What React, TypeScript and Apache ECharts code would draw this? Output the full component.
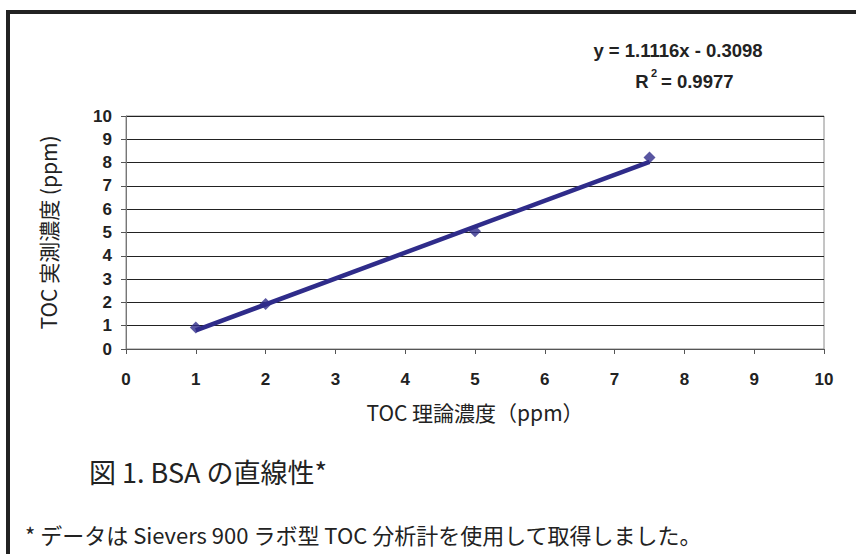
import React, { useEffect, useRef } from "react";
import * as echarts from "echarts";

const xValues = [1, 2, 5, 7.5];
const yValues = [0.92, 1.93, 5.05, 8.22];
const trendX = [1, 7.5];
const trendY = [0.80, 8.03];
const equationText = "y = 1.1116x - 0.3098";
const r2Value = "= 0.9977";
const xAxisTitle = "TOC 理論濃度（ppm）";
const yAxisTitle = "TOC 実測濃度 (ppm)";
const captionText = "図 1. BSA の直線性*";
const footnoteText = "* データは Sievers 900 ラボ型 TOC 分析計を使用して取得しました。";

const NAVY = "#2f2c8a";
const CJK = "'Noto Sans CJK JP', 'Noto Sans', sans-serif";
const ARIAL = "'Liberation Sans', Arial, sans-serif";

export default function App() {
  const ref = useRef<HTMLDivElement>(null);
  useEffect(() => {
    if (!ref.current) return;
    const chart = echarts.init(ref.current, null, { renderer: "svg" });
    const points = xValues.map((x, i) => [x, yValues[i]]);
    const trend = trendX.map((x, i) => [x, trendY[i]]);
    chart.setOption({
      animation: false,
      backgroundColor: "#ffffff",
      grid: {
        left: 126,
        right: 32,
        top: 116,
        bottom: 205,
        show: true,
        borderColor: "#8a8a8a",
        borderWidth: 1,
        backgroundColor: "transparent",
      },
      xAxis: {
        type: "value",
        min: 0,
        max: 10,
        interval: 1,
        name: xAxisTitle,
        nameLocation: "middle",
        nameGap: 52,
        nameTextStyle: { fontFamily: CJK, fontSize: 21, color: "#222" },
        axisLine: { show: true, lineStyle: { color: "#555", width: 1 } },
        axisTick: { show: true, length: 5, lineStyle: { color: "#555" } },
        axisLabel: {
          margin: 22,
          fontFamily: ARIAL,
          fontWeight: "bold",
          fontSize: 17,
          color: "#222",
        },
        splitLine: { show: false },
      },
      yAxis: {
        type: "value",
        min: 0,
        max: 10,
        interval: 1,
        name: yAxisTitle,
        nameLocation: "middle",
        nameGap: 68,
        nameTextStyle: { fontFamily: CJK, fontSize: 21, color: "#222" },
        axisLine: { show: true, lineStyle: { color: "#777", width: 1 } },
        axisTick: { show: true, length: 5, lineStyle: { color: "#555" } },
        axisLabel: {
          margin: 14,
          fontFamily: ARIAL,
          fontWeight: "bold",
          fontSize: 17,
          color: "#222",
        },
        splitLine: { show: true, lineStyle: { color: "#222", width: 1 } },
      },
      series: [
        {
          type: "line",
          data: trend,
          symbol: "none",
          lineStyle: { color: NAVY, width: 4.5 },
          z: 2,
        },
        {
          type: "scatter",
          data: points,
          symbol: "diamond",
          symbolSize: 12,
          itemStyle: { color: NAVY },
          z: 3,
        },
      ],
      graphic: [
        {
          type: "rect",
          shape: { x: 6, y: 10, width: 850, height: 4 },
          style: { fill: "#222" },
        },
        {
          type: "rect",
          shape: { x: 6, y: 10, width: 4, height: 544 },
          style: { fill: "#222" },
        },
        {
          type: "text",
          x: 678,
          y: 50,
          style: {
            text: equationText,
            fontFamily: ARIAL,
            fontWeight: "bold",
            fontSize: 18.5,
            fill: "#222",
            align: "center",
            verticalAlign: "middle",
          },
        },
        {
          type: "text",
          x: 642,
          y: 81,
          style: {
            text: "R",
            fontFamily: ARIAL,
            fontWeight: "bold",
            fontSize: 18.5,
            fill: "#222",
            align: "center",
            verticalAlign: "middle",
          },
        },
        {
          type: "text",
          x: 654,
          y: 73,
          style: {
            text: "2",
            fontFamily: ARIAL,
            fontWeight: "bold",
            fontSize: 11,
            fill: "#222",
            align: "center",
            verticalAlign: "middle",
          },
        },
        {
          type: "text",
          x: 661,
          y: 81,
          style: {
            text: r2Value,
            fontFamily: ARIAL,
            fontWeight: "bold",
            fontSize: 18.5,
            fill: "#222",
            align: "left",
            verticalAlign: "middle",
          },
        },
        {
          type: "text",
          x: 89,
          y: 471,
          style: {
            text: captionText,
            fontFamily: CJK,
            fontSize: 27,
            fill: "#222",
            align: "left",
            verticalAlign: "middle",
          },
        },
        {
          type: "text",
          x: 25,
          y: 534,
          style: {
            text: footnoteText,
            fontFamily: CJK,
            fontSize: 22,
            fill: "#222",
            align: "left",
            verticalAlign: "middle",
          },
        },
      ],
    });
    return () => chart.dispose();
  }, []);
  return (
    <div
      ref={ref}
      style={{ position: "fixed", left: 0, top: 0, width: 856, height: 554 }}
    />
  );
}
